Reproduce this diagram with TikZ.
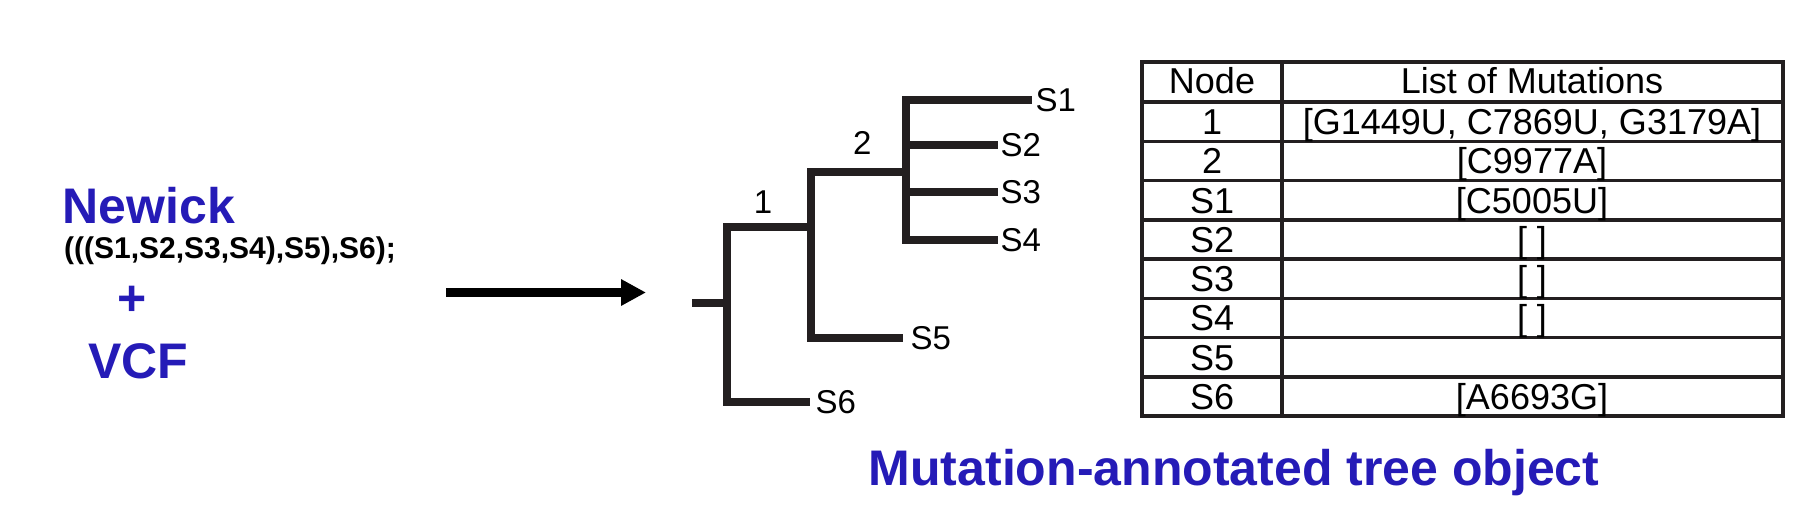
\documentclass[tikz,border=0pt]{standalone}
\usepackage{fontspec}
\setmainfont{Liberation Sans}
\usetikzlibrary{arrows.meta, positioning, calc}
\definecolor{inputblue}{RGB}{37,27,183}
\definecolor{treegray}{RGB}{35,31,32}

\begin{document}
\begin{tikzpicture}[x=1pt, y=-1pt, >=Stealth,
  bigtext/.style={font=\fontsize{50}{60}\selectfont\bfseries, text=inputblue, inner sep=0pt},
  nwk/.style={font=\fontsize{30}{36}\selectfont\bfseries, inner sep=0pt},
  branch/.style={line width=8pt, draw=treegray},
  vbranch/.style={branch, line cap=rect},
  leaf/.style={font=\fontsize{33}{40}\selectfont, inner sep=0pt},
  grid/.style={line width=3.5pt, draw=treegray},
  cell/.style={font=\fontsize{36}{43}\selectfont, inner sep=0pt, anchor=base}]
  \useasboundingbox (0,0) rectangle (1806,512);

  % Input
	\node[bigtext, anchor=base] (newick) at (149,223) {Newick};
	\node[nwk, anchor=base] (nwkstr) at (230,258) {(((S1,S2,S3,S4),S5),S6);};
	\node[bigtext] (plus) at (132,301) {+};
	\node[bigtext, anchor=base] (vcf) at (138,378) {VCF};

  % Arrow
	\coordinate (from) at (446,292.5);
	\coordinate (to) at (646,292.5);
	\draw[line width=9pt, -{Triangle[length=25pt, width=25pt]}] (from) -- (to);

  % Tree
	\coordinate (root) at (692,303);
	\coordinate (n0) at (727,303);
	\coordinate (n1) at (811,227);
	\coordinate (n2) at (906,172);
	\coordinate (e1) at (1032,100);
	\coordinate (e2) at (998,145);
	\coordinate (e3) at (998,192);
	\coordinate (e4) at (998,240);
	\coordinate (e5) at (903,338);
	\coordinate (e6) at (810,402);

	\draw[vbranch] (n0 |- n1) -- (n0 |- e6);
	\draw[vbranch] (n1 |- n2) -- (n1 |- e5);
	\draw[vbranch] (n2 |- e1) -- (n2 |- e4);

	\draw[branch] (root) -- (n0);
	\draw[branch] (n0 |- n1) -- node[leaf, pos=0.43, above=10pt] (lab1) {1} (n1);
	\draw[branch] (n1 |- n2) -- node[leaf, pos=0.54, above=14pt] (lab2) {2} (n2);
	\foreach \e in {e1,e2,e3,e4}
		\draw[branch] (n2 |- \e) -- (\e);
	\draw[branch] (n1 |- e5) -- (e5);
	\draw[branch] (n0 |- e6) -- (e6);

	\foreach \i/\g in {1/3.5pt,2/2.5pt,3/2.5pt,4/2.5pt,5/7.5pt,6/5.5pt}
		\node[leaf, right=\g of e\i] (S\i) {S\i};

  % Table
	\coordinate (tl) at (1142,62);
	\coordinate (br) at (1783,416);
	\draw[grid] (tl) rectangle (br);
	\draw[grid] (1282,62) -- (1282,416);
	\foreach \y in {102,141.25,...,377.5}
		\draw[grid] (1142,\y) -- (1783,\y);

	\node[cell] (hnode) at (1212,93) {Node};
	\node[cell] (hmut) at (1532,93) {List of Mutations};
	\foreach \n/\m [count=\k] in {1/{[G1449U, C7869U, G3179A]}, 2/{[C9977A]}, S1/{[C5005U]}, S2/{[ ]}, S3/{[ ]}, S4/{[ ]}, S5/{}, S6/{[A6693G]}} {
		\node[cell] (row\k) at (1212,{95.25+39.25*\k}) {\n};
		\node[cell] (mut\k) at (1532,{95.25+39.25*\k}) {\m};
	}

  % Caption
	\node[bigtext, anchor=base] (caption) at (1234,485) {Mutation-annotated tree object};
\end{tikzpicture}
\end{document}
